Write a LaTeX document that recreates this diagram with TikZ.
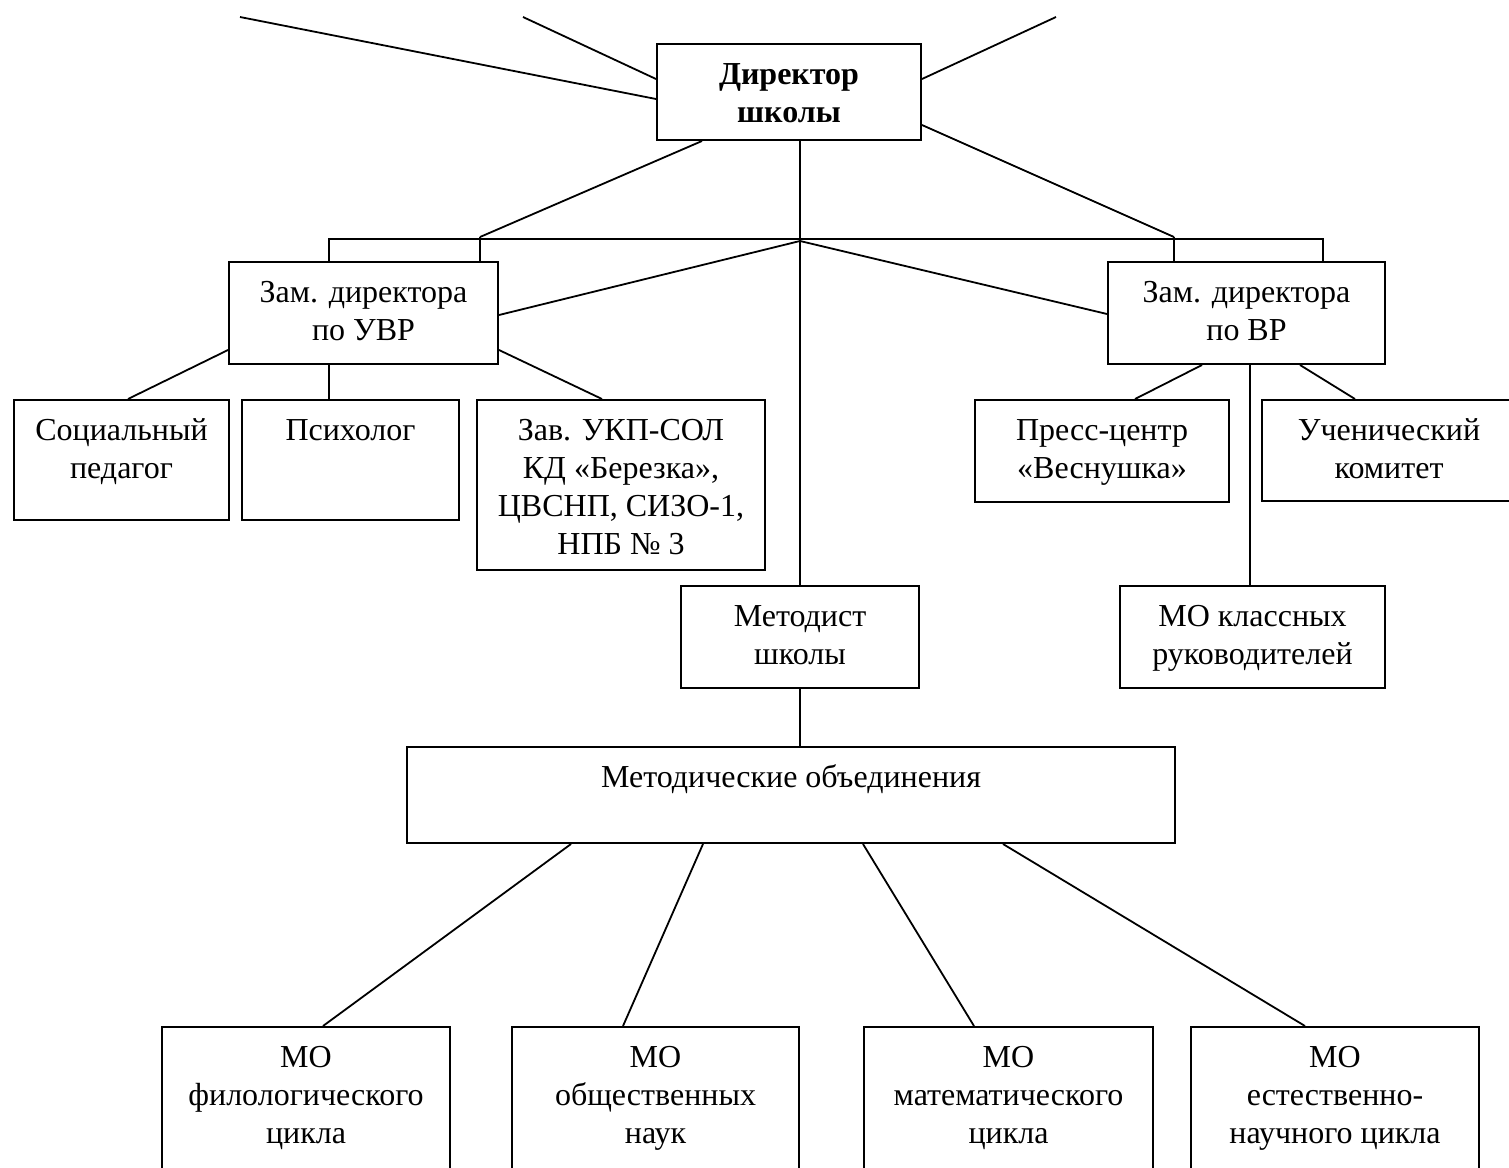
\documentclass[tikz,border=0pt]{standalone}
\usepackage{fontspec}
\setmainfont{Liberation Serif}
\usetikzlibrary{calc}

\begin{document}
\begin{tikzpicture}[x=0.5pt, y=-0.5pt, line width=0.9pt]
\tikzstyle{block} = [draw, rectangle, anchor=north west, inner sep=0pt, line width=1pt, font=\fontsize{16pt}{19pt}\selectfont]
\tikzstyle{axis} = [line width=0.7pt]

% box contents: width, height (pt), text
\def\cell#1#2#3{\parbox[c][#2pt][t]{#1pt}{\centering\rule{0pt}{20pt}#3}}

\useasboundingbox (0,0) rectangle (1509,1167);

    \node [block] (dir) at (656,43) {\cell{132}{48}{\bfseries Директор\\школы}};
    \node [block] (uvr) at (228,261) {\cell{134.5}{51}{Зам. директора\\по УВР}};
    \node [block] (vr) at (1107,261) {\cell{138.5}{51}{Зам. директора\\по ВР}};
    \node [block] (soc) at (13,399) {\cell{107.5}{60}{Социальный\\педагог}};
    \node [block] (psy) at (241,399) {\cell{108.5}{60}{Психолог}};
    \node [block] (zav) at (476,399) {\cell{144}{85}{Зав. УКП-СОЛ\\КД «Березка»,\\ЦВСНП, СИЗО-1,\\НПБ № 3}};
    \node [block] (press) at (974,399) {\cell{127}{51}{Пресс-центр\\«Веснушка»}};
    \node [block] (uchen) at (1261,399) {\cell{127}{50.5}{Ученический\\комитет}};
    \node [block] (met) at (680,585) {\cell{119}{51}{Методист\\школы}};
    \node [block] (mok) at (1119,585) {\cell{132.5}{51}{МО классных\\руководителей}};
    \node [block] (mob) at (406,746) {\cell{384}{48}{Методические объединения}};
    \node [block] (f1) at (161,1026) {\cell{144}{80}{МО\\филологического\\цикла}};
    \node [block] (f2) at (511,1026) {\cell{143.5}{80}{МО\\общественных\\наук}};
    \node [block] (f3) at (863,1026) {\cell{144.5}{80}{МО\\математического\\цикла}};
    \node [block] (f4) at (1190,1026) {\cell{144}{80}{МО\\естественно-\\научного цикла}};

    \coordinate (t1) at (240,17);
    \coordinate (t2) at (523,17);
    \coordinate (t3) at (1056,17);
    \coordinate (hub) at (met.north |- {$(dir.south)+(0,98)$});

    % lines leaving the top edge
    \draw (t1) -- ($(dir.north west)+(0,56)$);
    \draw (t2) -- ($(dir.north west)+(0,36)$);
    \draw (t3) -- ($(dir.north east)+(0,36)$);

    % bus under the director
    \draw ($(uvr.north west)+(101,0)$) |- (hub) -| ($(vr.north west)+(216,0)$);
    \draw ($(uvr.north west)+(252,0)$) -- +(0,-24);
    \draw ($(vr.north west)+(67,0)$) -- +(0,-24);
    \draw ($(dir.south west)+(46,0)$) -- ($(uvr.north west)+(252,-24)$);
    \draw ($(dir.north east)+(0,82)$) -- ($(vr.north west)+(67,-24)$);
    \draw ($(hub)+(0,2)$) -- ($(uvr.north east)+(0,54)$);
    \draw ($(hub)+(0,2)$) -- ($(vr.north west)+(0,53)$);

    \draw [axis] (met.north |- dir.south) -- (met.north);
    \draw [axis] (met.south) -- (met.south |- mob.north);

    \draw ($(uvr.south west)+(0,-15)$) -- ($(soc.north west)+(115,0)$);
    \draw ($(uvr.south west)+(101,0)$) -- ($(psy.north west)+(88,0)$);
    \draw ($(uvr.south east)+(0,-15)$) -- ($(zav.north west)+(126,0)$);

    \draw ($(vr.south west)+(95,0)$) -- ($(press.north west)+(161,0)$);
    \draw ($(vr.south west)+(143,0)$) -- ($(mok.north west)+(131,0)$);
    \draw ($(vr.south west)+(193,0)$) -- ($(uchen.north west)+(94,0)$);

    \foreach \a/\b/\n in {165/162/f1, 297/112/f2, 457/111/f3, 597/115/f4}
        \draw ($(mob.south west)+(\a,0)$) -- ($(\n.north west)+(\b,0)$);

\end{tikzpicture}
\end{document}
